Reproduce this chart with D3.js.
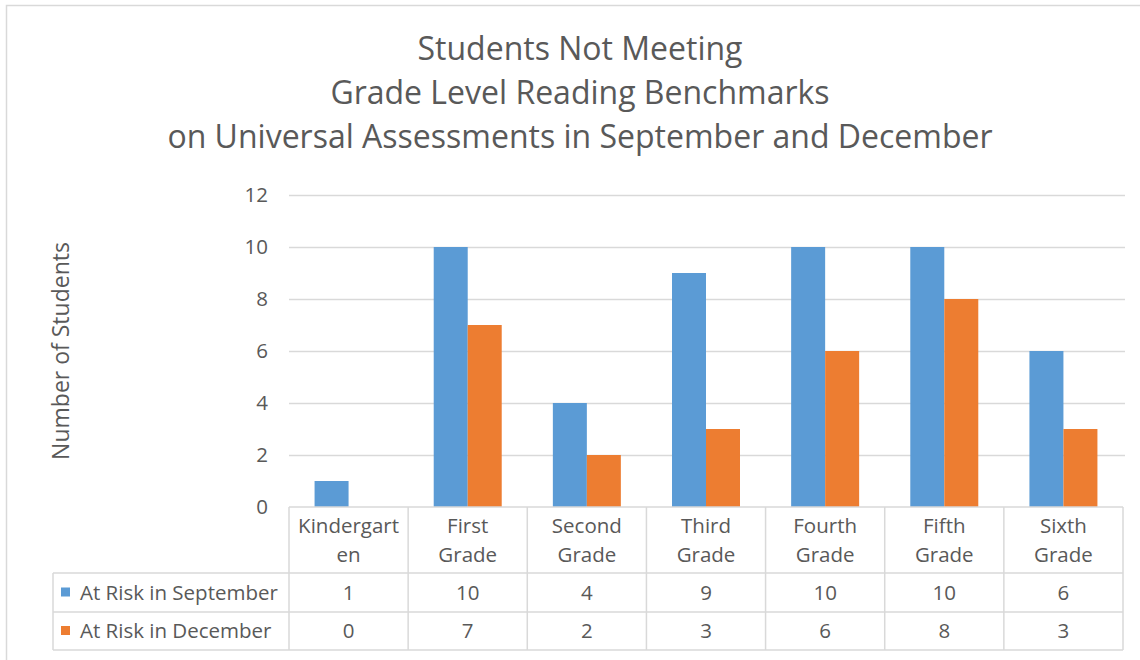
<!DOCTYPE html>
<head>
<meta charset="utf-8">
<title>Students Not Meeting Grade Level Reading Benchmarks</title>
<style>
body { margin: 0; background: #fff; }
text { font-family: "Open Sans", "Noto Sans", sans-serif; fill: #595959; }
.grid line { stroke: #d9d9d9; stroke-width: 1.3px; }
.grid path { stroke-width: 0; }
.tbl line { stroke: #d9d9d9; stroke-width: 1.5px; }
</style>
<script src="https://cdn.jsdelivr.net/npm/d3@7"></script>
</head>
<body>
<script>
// chart data
var titleLines = ["Students Not Meeting", "Grade Level Reading Benchmarks",
                  "on Universal Assessments in September and December"];
var categories = [["Kindergart", "en"], ["First", "Grade"], ["Second", "Grade"],
                  ["Third", "Grade"], ["Fourth", "Grade"], ["Fifth", "Grade"], ["Sixth", "Grade"]];
var seriesNames = ["At Risk in September", "At Risk in December"];
var september = [1, 10, 4, 9, 10, 10, 6];
var december = [0, 7, 2, 3, 6, 8, 3];
var yTicks = [0, 2, 4, 6, 8, 10, 12];
var colors = ["#5b9bd5", "#ed7d31"];

var W = 1140, H = 660;
var plot = {left: 289, right: 1123, top: 195, bottom: 507};
var rowH = [66, 39, 38];   // header row, then one per series
var legendLeft = 53;
var fs = "20.5px";

var series = [september, december];
var catIdx = d3.range(categories.length);

var svg = d3.select("body").append("svg")
    .attr("width", W)
    .attr("height", H);

// outer frame
svg.append("rect")
    .attr("x", 6.5).attr("y", 5.5)
    .attr("width", W + 20).attr("height", H + 20)
    .attr("fill", "none")
    .attr("stroke", "#d9d9d9")
    .attr("stroke-width", 1.5);

// title
svg.append("g").selectAll("text")
    .data(titleLines)
  .enter().append("text")
    .attr("x", 580)
    .attr("y", function(d, i) { return 60 + i * 44; })
    .attr("text-anchor", "middle")
    .style("font-size", "32px")
    .text(function(d) { return d; });

var x = d3.scaleBand()
    .domain(catIdx)
    .range([plot.left, plot.right]);

var xs = d3.scaleBand()
    .domain([0, 1])
    .range([-34, 34]);

var y = d3.scaleLinear()
    .domain([0, 12])
    .range([plot.bottom, plot.top]);

// gridlines
svg.append("g")
    .attr("class", "grid")
    .attr("transform", "translate(" + plot.left + ",0)")
    .call(d3.axisLeft(y).tickValues(yTicks.slice(1)).tickSize(-(plot.right - plot.left + 2)).tickFormat(""));

// y tick labels
svg.append("g").selectAll("text")
    .data(yTicks)
  .enter().append("text")
    .attr("x", 268)
    .attr("y", function(d) { return y(d); })
    .attr("dy", "0.35em")
    .attr("text-anchor", "end")
    .style("font-size", fs)
    .text(function(d) { return d; });

// y axis title
svg.append("text")
    .attr("transform", "translate(69,351) rotate(-90)")
    .attr("text-anchor", "middle")
    .style("font-size", "23px")
    .text("Number of Students");

// bars
svg.append("g").selectAll("g")
    .data(series)
  .enter().append("g")
    .attr("fill", function(d, i) { return colors[i]; })
    .each(function(vals, si) {
      d3.select(this).selectAll("rect")
          .data(vals)
        .enter().append("rect")
          .attr("x", function(d, i) { return x(i) + x.bandwidth() / 2 + xs(si); })
          .attr("width", xs.bandwidth())
          .attr("y", function(d) { return y(d); })
          .attr("height", function(d) { return y(0) - y(d); });
    });

// data table
var rowTop = [plot.bottom, plot.bottom + rowH[0], plot.bottom + rowH[0] + rowH[1]];
var tblBottom = rowTop[2] + rowH[2];
var tbl = svg.append("g").attr("class", "tbl");

// horizontal lines
tbl.append("line")
    .attr("x1", plot.left).attr("x2", plot.right)
    .attr("y1", rowTop[0]).attr("y2", rowTop[0]);
[rowTop[1], rowTop[2], tblBottom].forEach(function(yy) {
  tbl.append("line")
      .attr("x1", legendLeft).attr("x2", plot.right)
      .attr("y1", yy).attr("y2", yy);
});
// vertical lines
tbl.append("line")
    .attr("x1", legendLeft).attr("x2", legendLeft)
    .attr("y1", rowTop[1]).attr("y2", tblBottom);
catIdx.concat([categories.length]).forEach(function(i) {
  var xx = i < categories.length ? x(i) : plot.right;
  tbl.append("line")
      .attr("x1", xx).attr("x2", xx)
      .attr("y1", rowTop[0]).attr("y2", tblBottom);
});

// category headers
svg.append("g").selectAll("text")
    .data(categories)
  .enter().append("text")
    .attr("x", function(d, i) { return x(i) + x.bandwidth() / 2; })
    .attr("y", rowTop[0] + 26)
    .attr("text-anchor", "middle")
    .style("font-size", fs)
    .each(function(d) {
      d3.select(this).selectAll("tspan")
          .data(d)
        .enter().append("tspan")
          .attr("x", d3.select(this).attr("x"))
          .attr("dy", function(t, j) { return j ? 29 : 0; })
          .text(function(t) { return t; });
    });

// series rows
series.forEach(function(vals, si) {
  var cy = rowTop[si + 1] + rowH[si + 1] / 2;
  svg.append("rect")
      .attr("x", 61).attr("y", cy - 5)
      .attr("width", 9).attr("height", 9)
      .attr("fill", colors[si]);
  svg.append("text")
      .attr("x", 80).attr("y", cy)
      .attr("dy", "0.35em")
      .style("font-size", fs)
      .text(seriesNames[si]);
  svg.append("g").selectAll("text")
      .data(vals)
    .enter().append("text")
      .attr("x", function(d, i) { return x(i) + x.bandwidth() / 2; })
      .attr("y", cy)
      .attr("dy", "0.35em")
      .attr("text-anchor", "middle")
      .style("font-size", fs)
      .text(function(d) { return d; });
});
</script>
</body>
